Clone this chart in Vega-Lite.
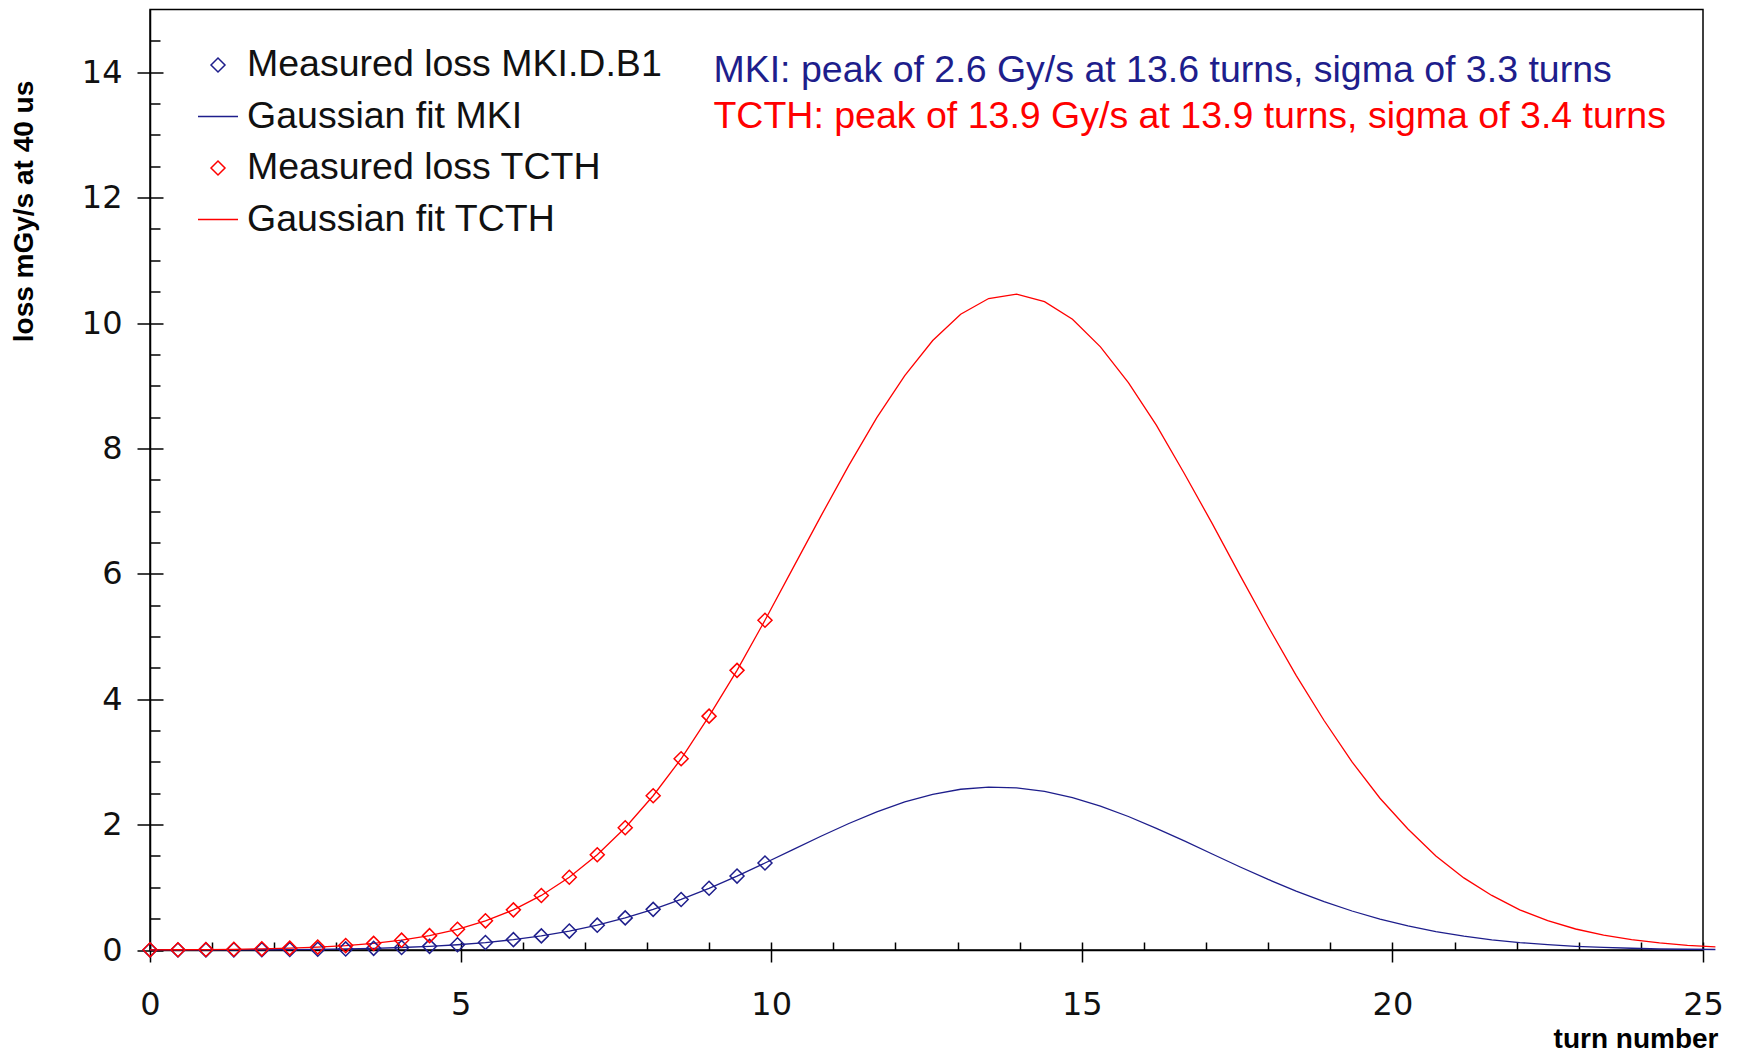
{
  "$schema": "https://vega.github.io/schema/vega-lite/v6.json",
  "width": 1553,
  "height": 940.5,
  "autosize": {"type": "none"},
  "padding": {"left": 150, "top": 9.5, "right": 37, "bottom": 106},
  "background": "white",
  "config": {
    "view": {"stroke": "#000", "strokeWidth": 1.5},
    "axis": {"domainColor": "#000", "domainWidth": 1.5, "tickColor": "#000", "tickWidth": 1.5, "grid": false, "labelFlush": false, "labelOverlap": false, "labelFont": "DejaVu Sans", "labelFontSize": 32, "labelColor": "#111", "titleFont": "Liberation Sans", "titleFontSize": 28, "titleFontWeight": "bold", "titleColor": "#000"}
  },
  "datasets": {
    "fit": [
      {"series": "Gaussian fit MKI", "turn": 0, "loss": 0.0005}, {"series": "Gaussian fit MKI", "turn": 0.45, "loss": 0.0009}, {"series": "Gaussian fit MKI", "turn": 0.9, "loss": 0.0016}, {"series": "Gaussian fit MKI", "turn": 1.35, "loss": 0.0026}, {"series": "Gaussian fit MKI", "turn": 1.8, "loss": 0.0043}, {"series": "Gaussian fit MKI", "turn": 2.25, "loss": 0.007}, {"series": "Gaussian fit MKI", "turn": 2.7, "loss": 0.011}, {"series": "Gaussian fit MKI", "turn": 3.15, "loss": 0.017}, {"series": "Gaussian fit MKI", "turn": 3.6, "loss": 0.026}, {"series": "Gaussian fit MKI", "turn": 4.05, "loss": 0.04}, {"series": "Gaussian fit MKI", "turn": 4.5, "loss": 0.058}, {"series": "Gaussian fit MKI", "turn": 4.95, "loss": 0.084}, {"series": "Gaussian fit MKI", "turn": 5.4, "loss": 0.119}, {"series": "Gaussian fit MKI", "turn": 5.85, "loss": 0.165}, {"series": "Gaussian fit MKI", "turn": 6.3, "loss": 0.225}, {"series": "Gaussian fit MKI", "turn": 6.75, "loss": 0.302}, {"series": "Gaussian fit MKI", "turn": 7.2, "loss": 0.396}, {"series": "Gaussian fit MKI", "turn": 7.65, "loss": 0.512}, {"series": "Gaussian fit MKI", "turn": 8.1, "loss": 0.648}, {"series": "Gaussian fit MKI", "turn": 8.55, "loss": 0.806}, {"series": "Gaussian fit MKI", "turn": 9.0, "loss": 0.984}, {"series": "Gaussian fit MKI", "turn": 9.45, "loss": 1.179}, {"series": "Gaussian fit MKI", "turn": 9.9, "loss": 1.387}, {"series": "Gaussian fit MKI", "turn": 10.35, "loss": 1.601}, {"series": "Gaussian fit MKI", "turn": 10.8, "loss": 1.814}, {"series": "Gaussian fit MKI", "turn": 11.25, "loss": 2.018}, {"series": "Gaussian fit MKI", "turn": 11.7, "loss": 2.203}, {"series": "Gaussian fit MKI", "turn": 12.15, "loss": 2.361}, {"series": "Gaussian fit MKI", "turn": 12.6, "loss": 2.483}, {"series": "Gaussian fit MKI", "turn": 13.05, "loss": 2.564}, {"series": "Gaussian fit MKI", "turn": 13.5, "loss": 2.599}, {"series": "Gaussian fit MKI", "turn": 13.95, "loss": 2.586}, {"series": "Gaussian fit MKI", "turn": 14.4, "loss": 2.529}, {"series": "Gaussian fit MKI", "turn": 14.85, "loss": 2.43}, {"series": "Gaussian fit MKI", "turn": 15.3, "loss": 2.295}, {"series": "Gaussian fit MKI", "turn": 15.75, "loss": 2.129}, {"series": "Gaussian fit MKI", "turn": 16.2, "loss": 1.941}, {"series": "Gaussian fit MKI", "turn": 16.65, "loss": 1.739}, {"series": "Gaussian fit MKI", "turn": 17.1, "loss": 1.531}, {"series": "Gaussian fit MKI", "turn": 17.55, "loss": 1.324}, {"series": "Gaussian fit MKI", "turn": 18.0, "loss": 1.125}, {"series": "Gaussian fit MKI", "turn": 18.45, "loss": 0.94}, {"series": "Gaussian fit MKI", "turn": 18.9, "loss": 0.771}, {"series": "Gaussian fit MKI", "turn": 19.35, "loss": 0.622}, {"series": "Gaussian fit MKI", "turn": 19.8, "loss": 0.493}, {"series": "Gaussian fit MKI", "turn": 20.25, "loss": 0.384}, {"series": "Gaussian fit MKI", "turn": 20.7, "loss": 0.294}, {"series": "Gaussian fit MKI", "turn": 21.15, "loss": 0.221}, {"series": "Gaussian fit MKI", "turn": 21.6, "loss": 0.163}, {"series": "Gaussian fit MKI", "turn": 22.05, "loss": 0.119}, {"series": "Gaussian fit MKI", "turn": 22.5, "loss": 0.085}, {"series": "Gaussian fit MKI", "turn": 22.95, "loss": 0.059}, {"series": "Gaussian fit MKI", "turn": 23.4, "loss": 0.041}, {"series": "Gaussian fit MKI", "turn": 23.85, "loss": 0.028}, {"series": "Gaussian fit MKI", "turn": 24.3, "loss": 0.018}, {"series": "Gaussian fit MKI", "turn": 24.75, "loss": 0.012}, {"series": "Gaussian fit MKI", "turn": 25.2, "loss": 0.0077},
      {"series": "Gaussian fit TCTH", "turn": 0, "loss": 0.0025}, {"series": "Gaussian fit TCTH", "turn": 0.45, "loss": 0.0042}, {"series": "Gaussian fit TCTH", "turn": 0.9, "loss": 0.007}, {"series": "Gaussian fit TCTH", "turn": 1.35, "loss": 0.0115}, {"series": "Gaussian fit TCTH", "turn": 1.8, "loss": 0.0186}, {"series": "Gaussian fit TCTH", "turn": 2.25, "loss": 0.0295}, {"series": "Gaussian fit TCTH", "turn": 2.7, "loss": 0.046}, {"series": "Gaussian fit TCTH", "turn": 3.15, "loss": 0.0705}, {"series": "Gaussian fit TCTH", "turn": 3.6, "loss": 0.106}, {"series": "Gaussian fit TCTH", "turn": 4.05, "loss": 0.157}, {"series": "Gaussian fit TCTH", "turn": 4.5, "loss": 0.229}, {"series": "Gaussian fit TCTH", "turn": 4.95, "loss": 0.33}, {"series": "Gaussian fit TCTH", "turn": 5.4, "loss": 0.465}, {"series": "Gaussian fit TCTH", "turn": 5.85, "loss": 0.64}, {"series": "Gaussian fit TCTH", "turn": 6.3, "loss": 0.87}, {"series": "Gaussian fit TCTH", "turn": 6.75, "loss": 1.16}, {"series": "Gaussian fit TCTH", "turn": 7.2, "loss": 1.52}, {"series": "Gaussian fit TCTH", "turn": 7.65, "loss": 1.95}, {"series": "Gaussian fit TCTH", "turn": 8.1, "loss": 2.46}, {"series": "Gaussian fit TCTH", "turn": 8.55, "loss": 3.05}, {"series": "Gaussian fit TCTH", "turn": 9.0, "loss": 3.73}, {"series": "Gaussian fit TCTH", "turn": 9.45, "loss": 4.46}, {"series": "Gaussian fit TCTH", "turn": 9.9, "loss": 5.26}, {"series": "Gaussian fit TCTH", "turn": 10.35, "loss": 6.09}, {"series": "Gaussian fit TCTH", "turn": 10.8, "loss": 6.92}, {"series": "Gaussian fit TCTH", "turn": 11.25, "loss": 7.73}, {"series": "Gaussian fit TCTH", "turn": 11.7, "loss": 8.49}, {"series": "Gaussian fit TCTH", "turn": 12.15, "loss": 9.16}, {"series": "Gaussian fit TCTH", "turn": 12.6, "loss": 9.72}, {"series": "Gaussian fit TCTH", "turn": 13.05, "loss": 10.14}, {"series": "Gaussian fit TCTH", "turn": 13.5, "loss": 10.39}, {"series": "Gaussian fit TCTH", "turn": 13.95, "loss": 10.46}, {"series": "Gaussian fit TCTH", "turn": 14.4, "loss": 10.34}, {"series": "Gaussian fit TCTH", "turn": 14.85, "loss": 10.06}, {"series": "Gaussian fit TCTH", "turn": 15.3, "loss": 9.62}, {"series": "Gaussian fit TCTH", "turn": 15.75, "loss": 9.05}, {"series": "Gaussian fit TCTH", "turn": 16.2, "loss": 8.37}, {"series": "Gaussian fit TCTH", "turn": 16.65, "loss": 7.6}, {"series": "Gaussian fit TCTH", "turn": 17.1, "loss": 6.8}, {"series": "Gaussian fit TCTH", "turn": 17.55, "loss": 5.97}, {"series": "Gaussian fit TCTH", "turn": 18.0, "loss": 5.16}, {"series": "Gaussian fit TCTH", "turn": 18.45, "loss": 4.38}, {"series": "Gaussian fit TCTH", "turn": 18.9, "loss": 3.66}, {"series": "Gaussian fit TCTH", "turn": 19.35, "loss": 3.0}, {"series": "Gaussian fit TCTH", "turn": 19.8, "loss": 2.42}, {"series": "Gaussian fit TCTH", "turn": 20.25, "loss": 1.93}, {"series": "Gaussian fit TCTH", "turn": 20.7, "loss": 1.5}, {"series": "Gaussian fit TCTH", "turn": 21.15, "loss": 1.15}, {"series": "Gaussian fit TCTH", "turn": 21.6, "loss": 0.87}, {"series": "Gaussian fit TCTH", "turn": 22.05, "loss": 0.64}, {"series": "Gaussian fit TCTH", "turn": 22.5, "loss": 0.47}, {"series": "Gaussian fit TCTH", "turn": 22.95, "loss": 0.335}, {"series": "Gaussian fit TCTH", "turn": 23.4, "loss": 0.236}, {"series": "Gaussian fit TCTH", "turn": 23.85, "loss": 0.164}, {"series": "Gaussian fit TCTH", "turn": 24.3, "loss": 0.112}, {"series": "Gaussian fit TCTH", "turn": 24.75, "loss": 0.075}, {"series": "Gaussian fit TCTH", "turn": 25.2, "loss": 0.05}
    ],
    "measured": [
      {"series": "Measured loss MKI.D.B1", "turn": 0, "loss": 0.0005}, {"series": "Measured loss MKI.D.B1", "turn": 0.45, "loss": 0.0009}, {"series": "Measured loss MKI.D.B1", "turn": 0.9, "loss": 0.0016}, {"series": "Measured loss MKI.D.B1", "turn": 1.35, "loss": 0.0026}, {"series": "Measured loss MKI.D.B1", "turn": 1.8, "loss": 0.0043}, {"series": "Measured loss MKI.D.B1", "turn": 2.25, "loss": 0.007}, {"series": "Measured loss MKI.D.B1", "turn": 2.7, "loss": 0.011}, {"series": "Measured loss MKI.D.B1", "turn": 3.15, "loss": 0.017}, {"series": "Measured loss MKI.D.B1", "turn": 3.6, "loss": 0.026}, {"series": "Measured loss MKI.D.B1", "turn": 4.05, "loss": 0.04}, {"series": "Measured loss MKI.D.B1", "turn": 4.5, "loss": 0.058}, {"series": "Measured loss MKI.D.B1", "turn": 4.95, "loss": 0.084}, {"series": "Measured loss MKI.D.B1", "turn": 5.4, "loss": 0.119}, {"series": "Measured loss MKI.D.B1", "turn": 5.85, "loss": 0.165}, {"series": "Measured loss MKI.D.B1", "turn": 6.3, "loss": 0.225}, {"series": "Measured loss MKI.D.B1", "turn": 6.75, "loss": 0.302}, {"series": "Measured loss MKI.D.B1", "turn": 7.2, "loss": 0.396}, {"series": "Measured loss MKI.D.B1", "turn": 7.65, "loss": 0.512}, {"series": "Measured loss MKI.D.B1", "turn": 8.1, "loss": 0.648}, {"series": "Measured loss MKI.D.B1", "turn": 8.55, "loss": 0.806}, {"series": "Measured loss MKI.D.B1", "turn": 9.0, "loss": 0.984}, {"series": "Measured loss MKI.D.B1", "turn": 9.45, "loss": 1.179}, {"series": "Measured loss MKI.D.B1", "turn": 9.9, "loss": 1.387},
      {"series": "Measured loss TCTH", "turn": 0, "loss": 0.0025}, {"series": "Measured loss TCTH", "turn": 0.45, "loss": 0.0042}, {"series": "Measured loss TCTH", "turn": 0.9, "loss": 0.007}, {"series": "Measured loss TCTH", "turn": 1.35, "loss": 0.0115}, {"series": "Measured loss TCTH", "turn": 1.8, "loss": 0.0186}, {"series": "Measured loss TCTH", "turn": 2.25, "loss": 0.0295}, {"series": "Measured loss TCTH", "turn": 2.7, "loss": 0.046}, {"series": "Measured loss TCTH", "turn": 3.15, "loss": 0.0705}, {"series": "Measured loss TCTH", "turn": 3.6, "loss": 0.106}, {"series": "Measured loss TCTH", "turn": 4.05, "loss": 0.157}, {"series": "Measured loss TCTH", "turn": 4.5, "loss": 0.229}, {"series": "Measured loss TCTH", "turn": 4.95, "loss": 0.33}, {"series": "Measured loss TCTH", "turn": 5.4, "loss": 0.465}, {"series": "Measured loss TCTH", "turn": 5.85, "loss": 0.64}, {"series": "Measured loss TCTH", "turn": 6.3, "loss": 0.87}, {"series": "Measured loss TCTH", "turn": 6.75, "loss": 1.16}, {"series": "Measured loss TCTH", "turn": 7.2, "loss": 1.52}, {"series": "Measured loss TCTH", "turn": 7.65, "loss": 1.95}, {"series": "Measured loss TCTH", "turn": 8.1, "loss": 2.46}, {"series": "Measured loss TCTH", "turn": 8.55, "loss": 3.05}, {"series": "Measured loss TCTH", "turn": 9.0, "loss": 3.73}, {"series": "Measured loss TCTH", "turn": 9.45, "loss": 4.46}, {"series": "Measured loss TCTH", "turn": 9.9, "loss": 5.26}
    ]
  },
  "layer": [
    {
      "data": {"name": "fit"},
      "mark": {"type": "line", "strokeWidth": 1.3},
      "encoding": {
        "x": {"field": "turn", "type": "quantitative", "scale": {"domain": [0, 25], "nice": false, "zero": false},
          "axis": {"orient": "bottom", "values": [0, 5, 10, 15, 20, 25], "tickSize": 12, "labelPadding": 27, "labelFlush": false, "title": "turn number", "titleX": 1568, "titleY": 97, "titleAlign": "right", "titleBaseline": "alphabetic", "titleAnchor": null}},
        "y": {"field": "loss", "type": "quantitative", "scale": {"domain": [0, 15], "nice": false},
          "axis": {"orient": "left", "values": [0, 2, 4, 6, 8, 10, 12, 14], "tickSize": 13, "labelPadding": 15, "labelFlush": false, "title": "loss mGy/s at 40 us", "titleX": -126, "titleY": 201.5, "titleAngle": -90, "titleAlign": "center", "titleBaseline": "middle"}},
        "color": {"field": "series", "type": "nominal",
          "scale": {"domain": ["Measured loss MKI.D.B1", "Gaussian fit MKI", "Measured loss TCTH", "Gaussian fit TCTH"], "range": ["#1e1e8c", "#1e1e8c", "#ff0000", "#ff0000"]},
          "legend": {"orient": "none", "legendX": 47, "legendY": 34.5, "title": null, "padding": 0, "labelFont": "Liberation Sans", "labelFontSize": 37.5, "labelColor": "#111", "labelLimit": 1000, "labelOffset": 8, "symbolSize": 1600, "symbolStrokeWidth": 1.5, "rowPadding": 11.5,
            "encode": {"symbols": {"update": {"fill": {"value": "transparent"}}}}}}
      }
    },
    {
      "data": {"name": "measured"},
      "mark": {"type": "point", "filled": false, "strokeWidth": 1.5, "size": 1600, "opacity": 1},
      "encoding": {
        "x": {"field": "turn", "type": "quantitative",
          "axis": {"orient": "bottom", "values": [0, 5, 10, 15, 20, 25], "tickSize": -8, "labels": false, "domain": false, "title": null}},
        "y": {"field": "loss", "type": "quantitative",
          "axis": {"orient": "left", "values": [0, 2, 4, 6, 8, 10, 12, 14], "tickSize": -13, "labels": false, "domain": false, "title": null}},
        "color": {"field": "series", "type": "nominal",
          "legend": {"orient": "none", "legendX": 47, "legendY": 34.5, "title": null, "padding": 0, "labelFont": "Liberation Sans", "labelFontSize": 37.5, "labelColor": "#111", "labelLimit": 1000, "labelOffset": 8, "symbolSize": 1600, "symbolStrokeWidth": 1.5, "rowPadding": 11.5,
            "encode": {"symbols": {"update": {"fill": {"value": "transparent"}}}}}},
        "shape": {"field": "series", "type": "nominal",
          "scale": {"domain": ["Measured loss MKI.D.B1", "Gaussian fit MKI", "Measured loss TCTH", "Gaussian fit TCTH"], "range": ["M-0.35,0L0,-0.35L0.35,0L0,0.35Z", "M-1,0L1,0", "M-0.35,0L0,-0.35L0.35,0L0,0.35Z", "M-1,0L1,0"]},
          "legend": {"orient": "none", "legendX": 47, "legendY": 34.5, "title": null, "padding": 0, "labelFont": "Liberation Sans", "labelFontSize": 37.5, "labelColor": "#111", "labelLimit": 1000, "labelOffset": 8, "symbolSize": 1600, "symbolStrokeWidth": 1.5, "rowPadding": 11.5,
            "encode": {"symbols": {"update": {"fill": {"value": "transparent"}}}}}}
      }
    },
    {
      "data": {"values": [{"label": "MKI: peak of 2.6 Gy/s at 13.6 turns, sigma of 3.3 turns"}]},
      "mark": {"type": "text", "align": "left", "baseline": "middle", "font": "Liberation Sans", "fontSize": 37.5, "color": "#1e1e8c"},
      "encoding": {
        "x": {"datum": 9.07, "type": "quantitative",
          "axis": {"orient": "bottom", "values": [1, 2, 3, 4, 6, 7, 8, 9, 11, 12, 13, 14, 16, 17, 18, 19, 21, 22, 23, 24], "tickSize": -8, "labels": false, "domain": false, "title": null}},
        "y": {"datum": 14.02, "type": "quantitative",
          "axis": {"orient": "left", "values": [0.5, 1, 1.5, 2.5, 3, 3.5, 4.5, 5, 5.5, 6.5, 7, 7.5, 8.5, 9, 9.5, 10.5, 11, 11.5, 12.5, 13, 13.5, 14.5], "tickSize": -10, "labels": false, "domain": false, "title": null}},
        "text": {"field": "label"}
      }
    },
    {
      "data": {"values": [{"label": "TCTH: peak of 13.9 Gy/s at 13.9 turns, sigma of 3.4 turns"}]},
      "mark": {"type": "text", "align": "left", "baseline": "middle", "font": "Liberation Sans", "fontSize": 37.5, "color": "#ff0000"},
      "encoding": {
        "x": {"datum": 9.07, "type": "quantitative", "axis": null},
        "y": {"datum": 13.29, "type": "quantitative", "axis": null},
        "text": {"field": "label"}
      }
    }
  ],
  "resolve": {"axis": {"x": "independent", "y": "independent"}}
}
